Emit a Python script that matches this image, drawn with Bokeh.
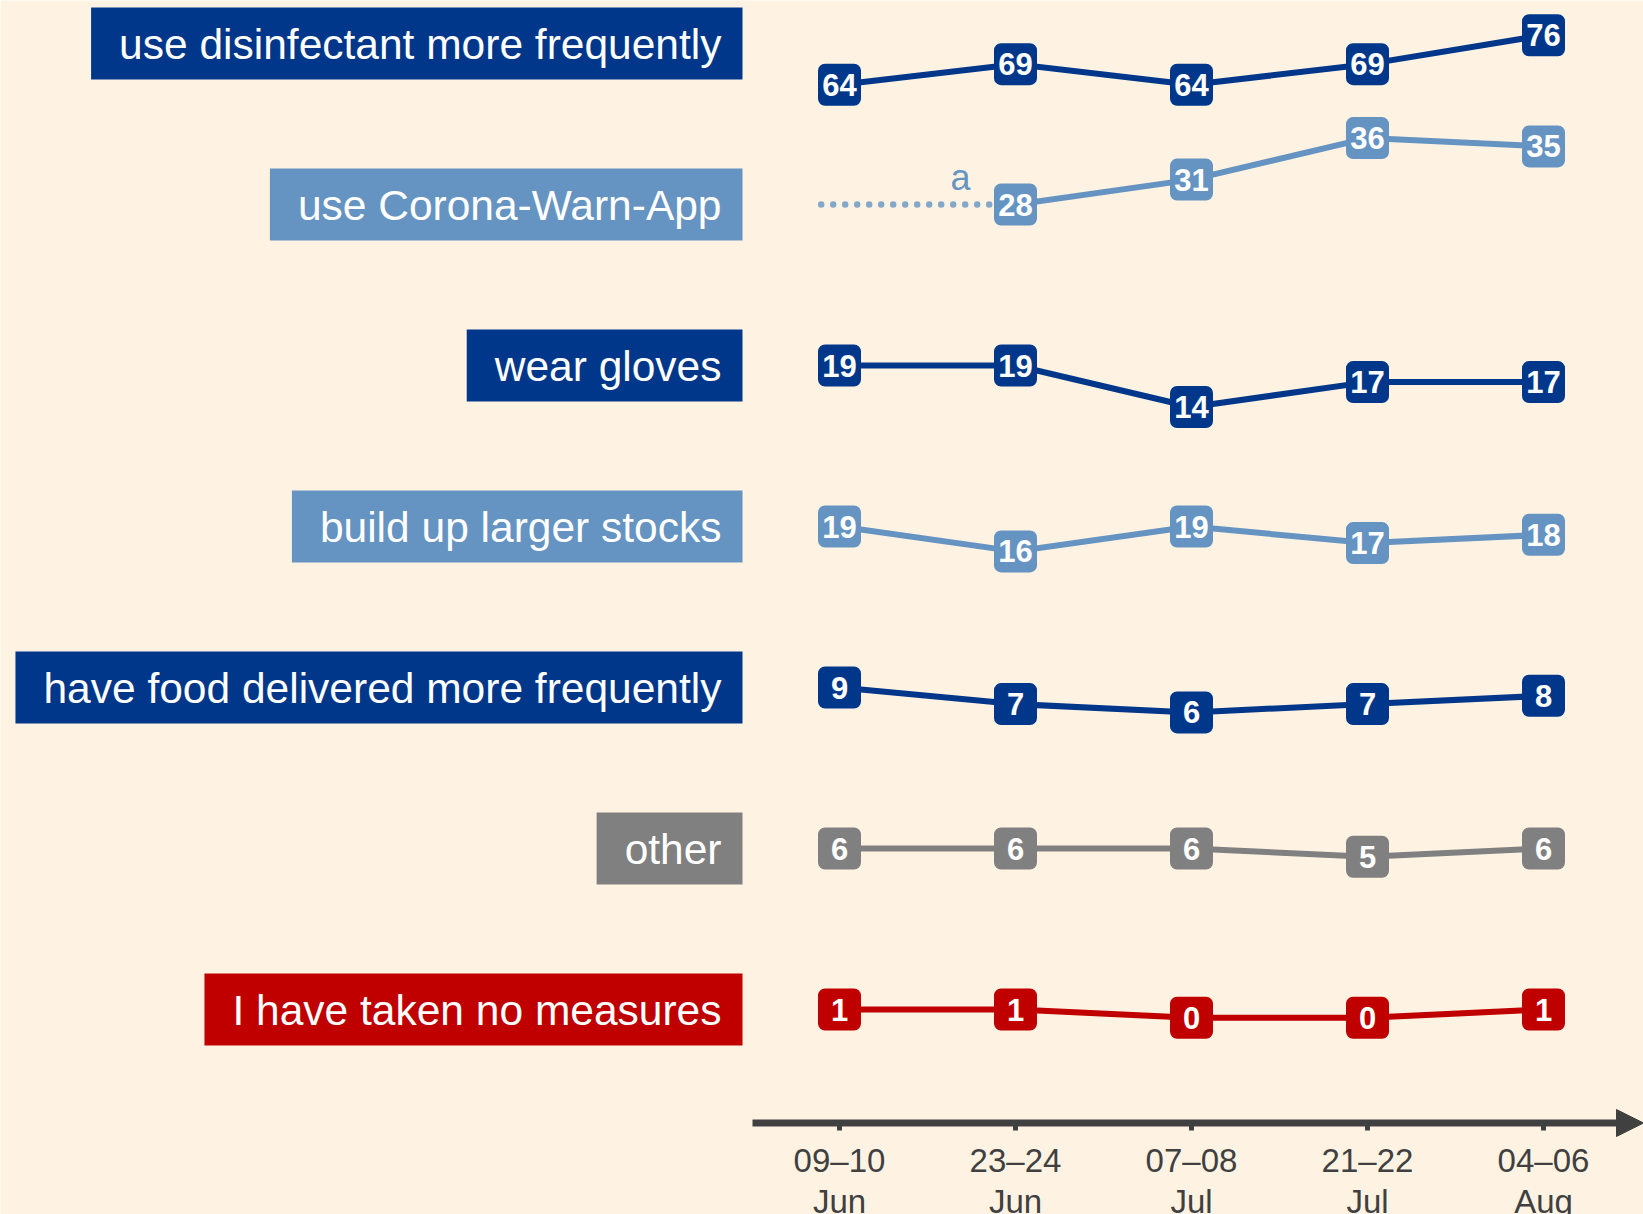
import numpy as np
from bokeh.plotting import figure
from bokeh.models import Range1d, ColumnDataSource, Arrow, NormalHead
from bokeh.core.properties import value
from bokeh.embed import file_html
from bokeh.resources import INLINE

# ---------------- data ----------------
categories = [
    "use disinfectant more frequently",
    "use Corona-Warn-App",
    "wear gloves",
    "build up larger stocks",
    "have food delivered more frequently",
    "other",
    "I have taken no measures",
]
periods = ["09–10", "23–24", "07–08", "21–22", "04–06"]
months = ["Jun", "Jun", "Jul", "Jul", "Aug"]

disinfectant = [64, 69, 64, 69, 76]
corona_app = [None, 28, 31, 36, 35]
gloves = [19, 19, 14, 17, 17]
stocks = [19, 16, 19, 17, 18]
food_delivery = [9, 7, 6, 7, 8]
other = [6, 6, 6, 5, 6]
no_measures = [1, 1, 0, 0, 1]

series = [disinfectant, corona_app, gloves, stocks, food_delivery, other, no_measures]
note_text = "a"

# ---------------- style / layout ----------------
DARK = "#00378A"
LIGHT = "#6593C2"
GREY = "#808080"
RED = "#C00000"
BG = "#FEF3E2"
AXIS = "#404040"
colors = [DARK, LIGHT, DARK, LIGHT, DARK, GREY, RED]

W, H = 1643, 1214
X0_PX, DX_PX = 839.0, 176.0          # pixel of first period and spacing
ROW0, ROW_STEP = 43.0, 161.0         # pixel centre of first row, row spacing
row_scale = [4.13, 8.3, 8.3, 8.3, 8.3, 8.3, 8.3]   # px per percentage point
row_anchor_shift = [10, 0, 0, 0, 0, 0, 0]          # anchor above first value
AXIS_Y = 1122.5

p = figure(width=W, height=H, output_backend="svg", toolbar_location=None,
           x_range=Range1d(-X0_PX / DX_PX, (W - X0_PX) / DX_PX),
           y_range=Range1d(H, 0),
           min_border=0, background_fill_color=BG, border_fill_color=BG)
p.axis.visible = False
p.grid.visible = False
p.outline_line_color = None

px = 1.0 / DX_PX   # one pixel in x data units
xs = list(range(len(periods)))

def row_y(r, vals):
    first = next(v for v in vals if v is not None)
    anchor = first + row_anchor_shift[r]
    c = ROW0 + ROW_STEP * r
    return [np.nan if v is None else c + (anchor - v) * row_scale[r] for v in vals]

# category label boxes
lab_src = ColumnDataSource(dict(
    x=[(742 - X0_PX) / DX_PX] * len(categories),
    y=[ROW0 + ROW_STEP * r for r in range(len(categories))],
    text=categories, color=colors))
p.text(x="x", y="y", text="text", source=lab_src,
       text_font=value("Liberation Sans"), text_font_size="42.5px",
       text_color="white", text_align="right", text_baseline="middle",
       background_fill_color="color", border_line_color=None,
       padding=dict(left=28, right=21, top=13, bottom=12))

# dotted extension for the app series (not asked before 23-24 Jun)
app_y = row_y(1, corona_app)
p.line(x=[-0.104, 1], y=[app_y[1], app_y[1]], line_color=LIGHT, line_width=6.5,
       line_dash="0 12", line_cap="round", line_alpha=0.8)
p.text(x=[(960 - X0_PX) / DX_PX], y=[177], text=[note_text],
       text_font=value("Liberation Sans"), text_font_size="36px",
       text_color=LIGHT, text_align="center", text_baseline="middle")

# series lines, boxes and values
for r, vals in enumerate(series):
    ys = row_y(r, vals)
    p.line(x=xs, y=ys, line_color=colors[r], line_width=6)
for r, vals in enumerate(series):
    ys = row_y(r, vals)
    keep = [i for i, v in enumerate(vals) if v is not None]
    src = ColumnDataSource(dict(
        x=[xs[i] for i in keep], y=[ys[i] for i in keep],
        t=[str(vals[i]) for i in keep]))
    src.data["l"] = [x - 21.5 * px for x in src.data["x"]]
    src.data["r"] = [x + 21.5 * px for x in src.data["x"]]
    src.data["top"] = [y - 21 for y in src.data["y"]]
    src.data["bot"] = [y + 21 for y in src.data["y"]]
    p.quad(left="l", right="r", top="top", bottom="bot", source=src,
           fill_color=colors[r], line_color=None, border_radius=7)
    p.text(x="x", y="y", text="t", source=src, text_color="white",
           text_font=value("Liberation Sans"), text_font_style="bold",
           text_font_size="31px", text_align="center", text_baseline="middle")

# time axis with arrow
p.add_layout(Arrow(x_start=(752 - X0_PX) / DX_PX, y_start=AXIS_Y,
                   x_end=(W - X0_PX) / DX_PX, y_end=AXIS_Y,
                   line_color=AXIS, line_width=7,
                   end=NormalHead(size=27, fill_color=AXIS, line_color=AXIS, line_width=1)))
p.segment(x0=xs, x1=xs, y0=[AXIS_Y] * len(xs), y1=[AXIS_Y + 7.5] * len(xs),
          line_color=AXIS, line_width=5)
p.text(x=xs, y=[1159.5] * len(xs), text=periods, text_font=value("Liberation Sans"),
       text_font_size="33px", text_color=AXIS, text_align="center",
       text_baseline="middle")
p.text(x=xs, y=[1200.5] * len(xs), text=months, text_font=value("Liberation Sans"),
       text_font_size="33px", text_color=AXIS, text_align="center",
       text_baseline="middle")

open("out.html", "w").write(file_html(p, INLINE))
